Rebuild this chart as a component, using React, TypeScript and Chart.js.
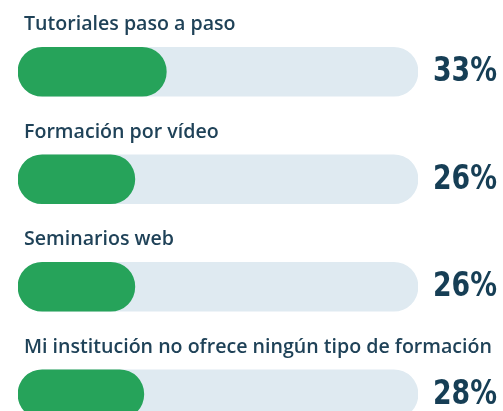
import React, { useEffect, useRef } from "react";
import { Chart, registerables } from "chart.js";

Chart.register(...registerables);

const categories = [
  "Tutoriales paso a paso",
  "Formación por vídeo",
  "Seminarios web",
  "Mi institución no ofrece ningún tipo de formación",
];
const values = [33, 26, 26, 28];
const percentLabels = ["33%", "26%", "26%", "28%"];
const scaleMax = 89;

const GREEN = "#26a35a";
const TRACK = "#dfeaf1";
const TEXT = "#1f4258";
const PCT = "#163e55";

const labelsPlugin = {
  id: "labelsPlugin",
  afterDatasetsDraw(chart: any) {
    const ctx = chart.ctx;
    const meta = chart.getDatasetMeta(1);
    const area = chart.chartArea;
    ctx.save();
    meta.data.forEach((bar: any, i: number) => {
      const y = bar.y;
      const top = y - bar.height / 2;
      ctx.fillStyle = TEXT;
      ctx.font = '600 19.6px "Open Sans", sans-serif';
      ctx.textAlign = "left";
      ctx.textBaseline = "alphabetic";
      ctx.fillText(categories[i], 24, top - 17);
      ctx.fillStyle = PCT;
      ctx.font = 'bold 34px "Liberation Sans Narrow", "DejaVu Sans Condensed", "DejaVu Sans", sans-serif';
      const txt = percentLabels[i];
      const w = ctx.measureText(txt).width;
      const target = 64;
      ctx.save();
      ctx.translate(area.right + 15, y + 9.5);
      ctx.scale(target / w, 1);
      ctx.fillText(txt, 0, 0);
      ctx.restore();
    });
    ctx.restore();
  },
};

export default function App() {
  const ref = useRef<HTMLCanvasElement>(null);
  useEffect(() => {
    if (!ref.current) return;
    const chart = new Chart(ref.current, {
      type: "bar",
      data: {
        labels: categories,
        datasets: [
          {
            data: categories.map(() => scaleMax),
            backgroundColor: TRACK,
            borderRadius: 25,
            borderSkipped: false,
            barThickness: 49,
            grouped: false,
            order: 2,
          } as any,
          {
            data: values,
            backgroundColor: GREEN,
            borderRadius: 25,
            borderSkipped: false,
            barThickness: 49,
            grouped: false,
            order: 1,
          } as any,
        ],
      },
      options: {
        indexAxis: "y",
        animation: false,
        responsive: false,
        maintainAspectRatio: false,
        layout: { padding: { left: 18, right: 85, top: 18, bottom: 12 } },
        scales: {
          x: { display: false, min: 0, max: scaleMax },
          y: { display: false },
        },
        plugins: {
          legend: { display: false },
          tooltip: { enabled: false },
        },
      },
      plugins: [labelsPlugin],
    });
    return () => chart.destroy();
  }, []);
  return (
    <div style={{ position: "fixed", left: 0, top: 0, width: 503, height: 460, background: "#fff" }}>
      <canvas ref={ref} width={503} height={460} style={{ width: 503, height: 460 }} />
    </div>
  );
}
